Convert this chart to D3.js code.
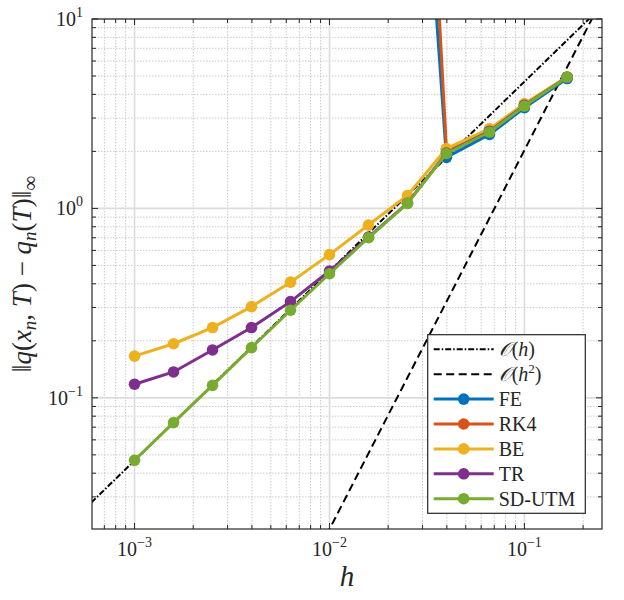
<!DOCTYPE html>
<html>
<head>
<meta charset="utf-8">
<script src="https://cdn.jsdelivr.net/npm/d3@7/dist/d3.min.js"></script>
<style>
  body { margin: 0; background: #fff; }
  svg { display: block; }
</style>
</head>
<body>
<div id="chart"></div>
<script>
// step sizes
var stepH = [0.001, 0.001585, 0.002512, 0.003981, 0.00631, 0.01, 0.01585, 0.02512, 0.0398, 0.0662, 0.1, 0.1656];

// errors per method (null = not shown / blown up)
var errFE    = [null, null, null, null, null, null, null, 1500, 1.86, 2.46, 3.40, 4.85];
var errRK4   = [null, null, null, null, null, null, null, 14000, 2.05, 2.60, 3.55, 4.93];
var errBE    = [0.166, 0.193, 0.235, 0.303, 0.408, 0.570, 0.817, 1.17, 2.07, 2.63, 3.57, 4.95];
var errTR    = [0.118, 0.137, 0.179, 0.235, 0.322, 0.467, 0.705, 1.065, 1.96, 2.55, 3.50, 4.93];
var errSDUTM = [0.0468, 0.0740, 0.1164, 0.184, 0.290, 0.452, 0.700, 1.063, 1.95, 2.53, 3.47, 4.93];

var seriesNames = ["FE", "RK4", "BE", "TR", "SD-UTM"];
var seriesColors = ["#0072BD", "#D95319", "#EDB120", "#7E2F8E", "#77AC30"];
var seriesErr = [errFE, errRK4, errBE, errTR, errSDUTM];

// reference slopes, end points
var refH = [0.0006, 0.25];
var refOrder1 = [0.028, 11.67];
var refH2 = [0.009, 0.25];
var refOrder2 = [0.0164, 12.7];

var xTicks = [1e-3, 1e-2, 1e-1];
var xTickExp = ["\u22123", "\u22122", "\u22121"];
var yTicks = [1e-1, 1e0, 1e1];
var yTickExp = ["\u22121", "0", "1"];

var width = 624, height = 600;
var pLeft = 92, pTop = 19, pRight = 602, pBottom = 529;
var tickLen = 6, minorTickLen = 4;
var dark = "#262626";
var serif = "'Liberation Serif', 'Times New Roman', serif";

var svg = d3.select("#chart").append("svg")
  .attr("width", width)
  .attr("height", height)
  .attr("font-family", serif);

var x = d3.scaleLog().domain([6.05e-4, 0.25]).range([pLeft, pRight]);
var y = d3.scaleLog().domain([0.0203, 10]).range([pBottom, pTop]);

// minor positions
function minorsFor(scale) {
  var d = scale.domain(), out = [];
  var lo = Math.floor(Math.log10(d[0])), hi = Math.ceil(Math.log10(d[1]));
  for (var e = lo; e < hi; e++) {
    for (var m = 2; m <= 9; m++) {
      var v = m * Math.pow(10, e);
      if (v > d[0] && v < d[1]) out.push(v);
    }
  }
  return out;
}
var xMinor = minorsFor(x);
var yMinor = minorsFor(y);

svg.append("clipPath")
  .attr("id", "plotClip")
.append("rect")
  .attr("x", pLeft)
  .attr("y", pTop)
  .attr("width", pRight - pLeft)
  .attr("height", pBottom - pTop);

var grid = svg.append("g");

grid.selectAll(".xminor").data(xMinor).enter()
  .append("line")
  .attr("x1", d => x(d)).attr("x2", d => x(d))
  .attr("y1", pTop).attr("y2", pBottom)
  .attr("stroke", "#bdbdbd")
  .attr("stroke-width", 0.8)
  .attr("stroke-dasharray", "1.5,1.5");

grid.selectAll(".yminor").data(yMinor).enter()
  .append("line")
  .attr("y1", d => y(d)).attr("y2", d => y(d))
  .attr("x1", pLeft).attr("x2", pRight)
  .attr("stroke", "#bdbdbd")
  .attr("stroke-width", 0.8)
  .attr("stroke-dasharray", "1.5,1.5");

grid.selectAll(".xmajor").data(xTicks).enter()
  .append("line")
  .attr("x1", d => x(d)).attr("x2", d => x(d))
  .attr("y1", pTop).attr("y2", pBottom)
  .attr("stroke", "#dcdcdc")
  .attr("stroke-width", 1.6);

grid.selectAll(".ymajor").data(yTicks).enter()
  .append("line")
  .attr("y1", d => y(d)).attr("y2", d => y(d))
  .attr("x1", pLeft).attr("x2", pRight)
  .attr("stroke", "#dcdcdc")
  .attr("stroke-width", 1.6);

// data
var plot = svg.append("g").attr("clip-path", "url(#plotClip)");

var line = d3.line()
  .defined(d => d[1] != null)
  .x(d => x(d[0]))
  .y(d => y(d[1]));

plot.append("path")
  .datum(refH.map((h, i) => [h, refOrder1[i]]))
  .attr("d", line)
  .attr("fill", "none")
  .attr("stroke", "#000")
  .attr("stroke-width", 2)
  .attr("stroke-dasharray", "6,2,1.5,2");

plot.append("path")
  .datum(refH2.map((h, i) => [h, refOrder2[i]]))
  .attr("d", line)
  .attr("fill", "none")
  .attr("stroke", "#000")
  .attr("stroke-width", 2)
  .attr("stroke-dasharray", "8,4.5");

seriesErr.forEach((errs, idx) => {
  var pts = stepH.map((h, i) => [h, errs[i]]);
  plot.append("path")
    .datum(pts)
    .attr("d", line)
    .attr("fill", "none")
    .attr("stroke", seriesColors[idx])
    .attr("stroke-width", 3);
  plot.selectAll(".pt" + idx).data(pts.filter(p => p[1] != null)).enter()
    .append("circle")
    .attr("cx", d => x(d[0]))
    .attr("cy", d => y(d[1]))
    .attr("r", 5.8)
    .attr("fill", seriesColors[idx]);
});

// axes box and ticks
var axes = svg.append("g");
axes.append("rect")
  .attr("x", pLeft).attr("y", pTop)
  .attr("width", pRight - pLeft).attr("height", pBottom - pTop)
  .attr("fill", "none")
  .attr("stroke", dark)
  .attr("stroke-width", 1.2);

function tickLines(vals, len, horizontal) {
  vals.forEach(v => {
    if (horizontal) {
      var px = x(v);
      axes.append("line").attr("x1", px).attr("x2", px).attr("y1", pBottom).attr("y2", pBottom - len).attr("stroke", dark);
      axes.append("line").attr("x1", px).attr("x2", px).attr("y1", pTop).attr("y2", pTop + len).attr("stroke", dark);
    } else {
      var py = y(v);
      axes.append("line").attr("y1", py).attr("y2", py).attr("x1", pLeft).attr("x2", pLeft + len).attr("stroke", dark);
      axes.append("line").attr("y1", py).attr("y2", py).attr("x1", pRight).attr("x2", pRight - len).attr("stroke", dark);
    }
  });
}
tickLines(xTicks, tickLen, true);
tickLines(xMinor, minorTickLen, true);
tickLines(yTicks, tickLen, false);
tickLines(yMinor, minorTickLen, false);

xTicks.forEach((v, i) => {
  var t = axes.append("text")
    .attr("x", x(v))
    .attr("y", pBottom + 27)
    .attr("text-anchor", "middle")
    .attr("fill", dark)
    .attr("font-size", 20);
  t.append("tspan").text("10");
  t.append("tspan").attr("dy", -9).attr("font-size", 14).text(xTickExp[i]);
});

yTicks.forEach((v, i) => {
  var t = axes.append("text")
    .attr("x", pLeft - 9)
    .attr("y", y(v) + 7)
    .attr("text-anchor", "end")
    .attr("fill", dark)
    .attr("font-size", 20);
  t.append("tspan").text("10");
  t.append("tspan").attr("dy", -9).attr("font-size", 14).text(yTickExp[i]);
});

// axis labels
svg.append("text")
  .attr("x", (pLeft + pRight) / 2)
  .attr("y", 586)
  .attr("text-anchor", "middle")
  .attr("fill", dark)
  .attr("font-size", 29)
  .attr("font-style", "italic")
  .text("h");

var yl = svg.append("text")
  .attr("transform", `translate(31, ${(pTop + pBottom) / 2}) rotate(-90)`)
  .attr("text-anchor", "middle")
  .attr("fill", dark)
  .attr("font-size", 27);
yl.append("tspan").text("\u2016");
yl.append("tspan").attr("font-style", "italic").text("q");
yl.append("tspan").text("(");
yl.append("tspan").attr("font-style", "italic").text("x");
yl.append("tspan").attr("font-style", "italic").attr("font-size", 19).attr("dy", 5).text("n");
yl.append("tspan").attr("dy", -5).text(", ");
yl.append("tspan").attr("font-style", "italic").text("T");
yl.append("tspan").text(") \u2212 ");
yl.append("tspan").attr("font-style", "italic").text("q");
yl.append("tspan").attr("font-style", "italic").attr("font-size", 19).attr("dy", 5).text("n");
yl.append("tspan").attr("dy", -5).text("(");
yl.append("tspan").attr("font-style", "italic").text("T");
yl.append("tspan").text(")\u2016");
yl.append("tspan").attr("font-size", 21).attr("dy", 6).text("\u221E");

// legend
var legX = 427.7, legY = 334.7, legW = 157.6, legH = 178.6;
var rowY0 = 349.3, rowH = 24.9;
var leg = svg.append("g");
leg.append("rect")
  .attr("x", legX).attr("y", legY)
  .attr("width", legW).attr("height", legH)
  .attr("fill", "#fff")
  .attr("stroke", dark)
  .attr("stroke-width", 1.2);

var legendRows = [
  { dash: "6,2,1.5,2", color: "#000", lw: 2, marker: false, label: null, order: "" },
  { dash: "8,4.5", color: "#000", lw: 2, marker: false, label: null, order: "2" }
].concat(seriesNames.map((n, i) => ({ dash: null, color: seriesColors[i], lw: 3, marker: true, label: n })));

legendRows.forEach((r, i) => {
  var ry = rowY0 + i * rowH;
  leg.append("line")
    .attr("x1", legX + 6).attr("x2", legX + 66)
    .attr("y1", ry).attr("y2", ry)
    .attr("stroke", r.color)
    .attr("stroke-width", r.lw)
    .attr("stroke-dasharray", r.dash);
  if (r.marker) {
    leg.append("circle")
      .attr("cx", legX + 36).attr("cy", ry)
      .attr("r", 5.8)
      .attr("fill", r.color);
  }
  var t = leg.append("text")
    .attr("x", legX + 71)
    .attr("y", ry + 7)
    .attr("fill", dark)
    .attr("font-size", 20);
  if (r.label) {
    t.text(r.label);
  } else {
    t.append("tspan").attr("font-family", "'DejaVu Serif', serif").attr("font-style", "italic").text("\uD835\uDCAA");
    t.append("tspan").text("(");
    t.append("tspan").attr("font-style", "italic").text("h");
    if (r.order) {
      t.append("tspan").attr("dy", -8).attr("font-size", 13).text(r.order);
      t.append("tspan").attr("dy", 8).text(")");
    } else {
      t.append("tspan").text(")");
    }
  }
});
</script>
</body>
</html>
